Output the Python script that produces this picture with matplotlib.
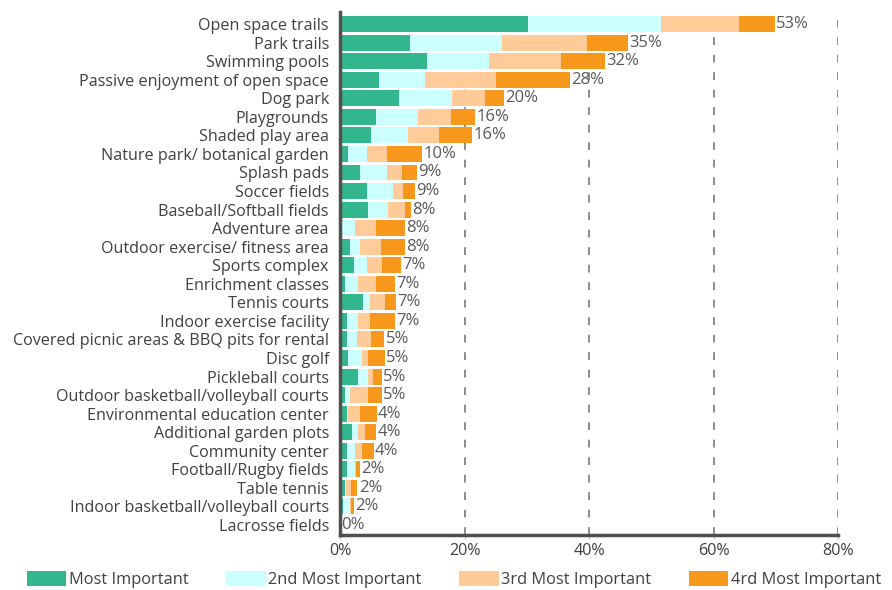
import matplotlib
matplotlib.use("Agg")
import matplotlib.pyplot as plt
import numpy as np

categories = [
    "Open space trails", "Park trails", "Swimming pools", "Passive enjoyment of open space",
    "Dog park", "Playgrounds", "Shaded play area", "Nature park/ botanical garden",
    "Splash pads", "Soccer fields", "Baseball/Softball fields", "Adventure area",
    "Outdoor exercise/ fitness area", "Sports complex", "Enrichment classes", "Tennis courts",
    "Indoor exercise facility", "Covered picnic areas & BBQ pits for rental", "Disc golf",
    "Pickleball courts", "Outdoor basketball/volleyball courts", "Environmental education center",
    "Additional garden plots", "Community center", "Football/Rugby fields", "Table tennis",
    "Indoor basketball/volleyball courts", "Lacrosse fields",
]
most_important = [30.2, 11.2, 13.9, 6.2, 9.4, 5.8, 5.0, 1.3, 3.2, 4.3, 4.5, 0.0, 1.6, 2.2,
                  0.8, 3.7, 1.1, 1.1, 1.3, 2.9, 0.8, 1.1, 1.9, 1.1, 1.1, 0.8, 0.5, 0.0]
second_important = [21.3, 14.9, 10.1, 7.4, 8.6, 6.7, 5.9, 3.0, 4.3, 4.2, 3.2, 2.4, 1.6, 2.2,
                    2.1, 1.1, 1.8, 1.6, 2.2, 1.6, 0.8, 0.2, 1.0, 1.3, 1.3, 0.1, 1.1, 0.0]
third_important = [12.6, 13.6, 11.5, 11.5, 5.3, 5.3, 5.0, 3.2, 2.4, 1.6, 2.7, 3.4, 3.4, 2.4,
                   2.9, 2.4, 1.9, 2.2, 1.0, 0.8, 2.9, 1.9, 1.1, 1.1, 0.2, 0.8, 0.1, 0.0]
fourth_important = [5.7, 6.5, 7.1, 11.9, 3.1, 3.9, 5.3, 5.7, 2.4, 1.9, 1.0, 4.6, 3.8, 3.0,
                    3.0, 1.8, 4.0, 2.2, 2.7, 1.4, 2.2, 2.7, 1.8, 1.9, 0.6, 1.1, 0.6, 0.0]
bar_labels = ["53%", "35%", "32%", "28%", "20%", "16%", "16%", "10%", "9%", "9%", "8%", "8%",
              "8%", "7%", "7%", "7%", "7%", "5%", "5%", "5%", "5%", "4%", "4%", "4%", "2%",
              "2%", "2%", "0%"]
series_names = ["Most Important", "2nd Most Important", "3rd Most Important", "4rd Most Important"]
colors = ["#31B68E", "#CCFFFF", "#FFCC99", "#F7981D"]
x_ticks = [0, 20, 40, 60, 80]

plt.rcParams['font.family'] = ['Open Sans', 'DejaVu Sans']

fig = plt.figure(figsize=(8.92, 5.90), dpi=100)
ax = fig.add_axes([340 / 892, 55 / 590, 498 / 892, 523 / 590])

y = np.arange(len(categories))
series = [most_important, second_important, third_important, fourth_important]
left = np.zeros(len(categories))
for vals, name, col in zip(series, series_names, colors):
    vals = np.array(vals)
    ax.barh(y, vals, left=left, height=0.86, color=col, label=name, zorder=3)
    left += vals

for yi, tot, lab in zip(y, left, bar_labels):
    ax.text(tot + 0.2, yi, lab, va='center', ha='left', fontsize=12, color='#595959', zorder=4)

ax.set_xlim(0, 80)
ax.set_ylim(len(categories) - 0.46, -0.65)
ax.set_yticks(y)
ax.set_yticklabels(categories, fontsize=11.6, color='#404040')
ax.set_xticks(x_ticks)
ax.set_xticklabels([f"{t}%" for t in x_ticks], fontsize=11.6, color='#404040')
ax.tick_params(axis='y', length=0, pad=8)
ax.tick_params(axis='x', length=3, color='#bbbbbb', pad=3)

for xt in x_ticks[1:]:
    ax.axvline(xt, color='#8c8c8c', linestyle=(0, (4, 5)), linewidth=1.4, zorder=1)

for s in ['top', 'right']:
    ax.spines[s].set_visible(False)
ax.spines['left'].set_color('#505050')
ax.spines['left'].set_linewidth(2.5)
ax.spines['bottom'].set_color('#505050')
ax.spines['bottom'].set_linewidth(2.5)
ax.spines['left'].set_zorder(5)

fig.legend(loc='center', bbox_to_anchor=(0.509, 0.017), ncol=4, frameon=False,
           handlelength=2.4, handleheight=1.0, columnspacing=2.3, handletextpad=0.15,
           fontsize=11.8, labelcolor='#404040', borderpad=0.1)

fig.savefig("out.png", dpi=100)
